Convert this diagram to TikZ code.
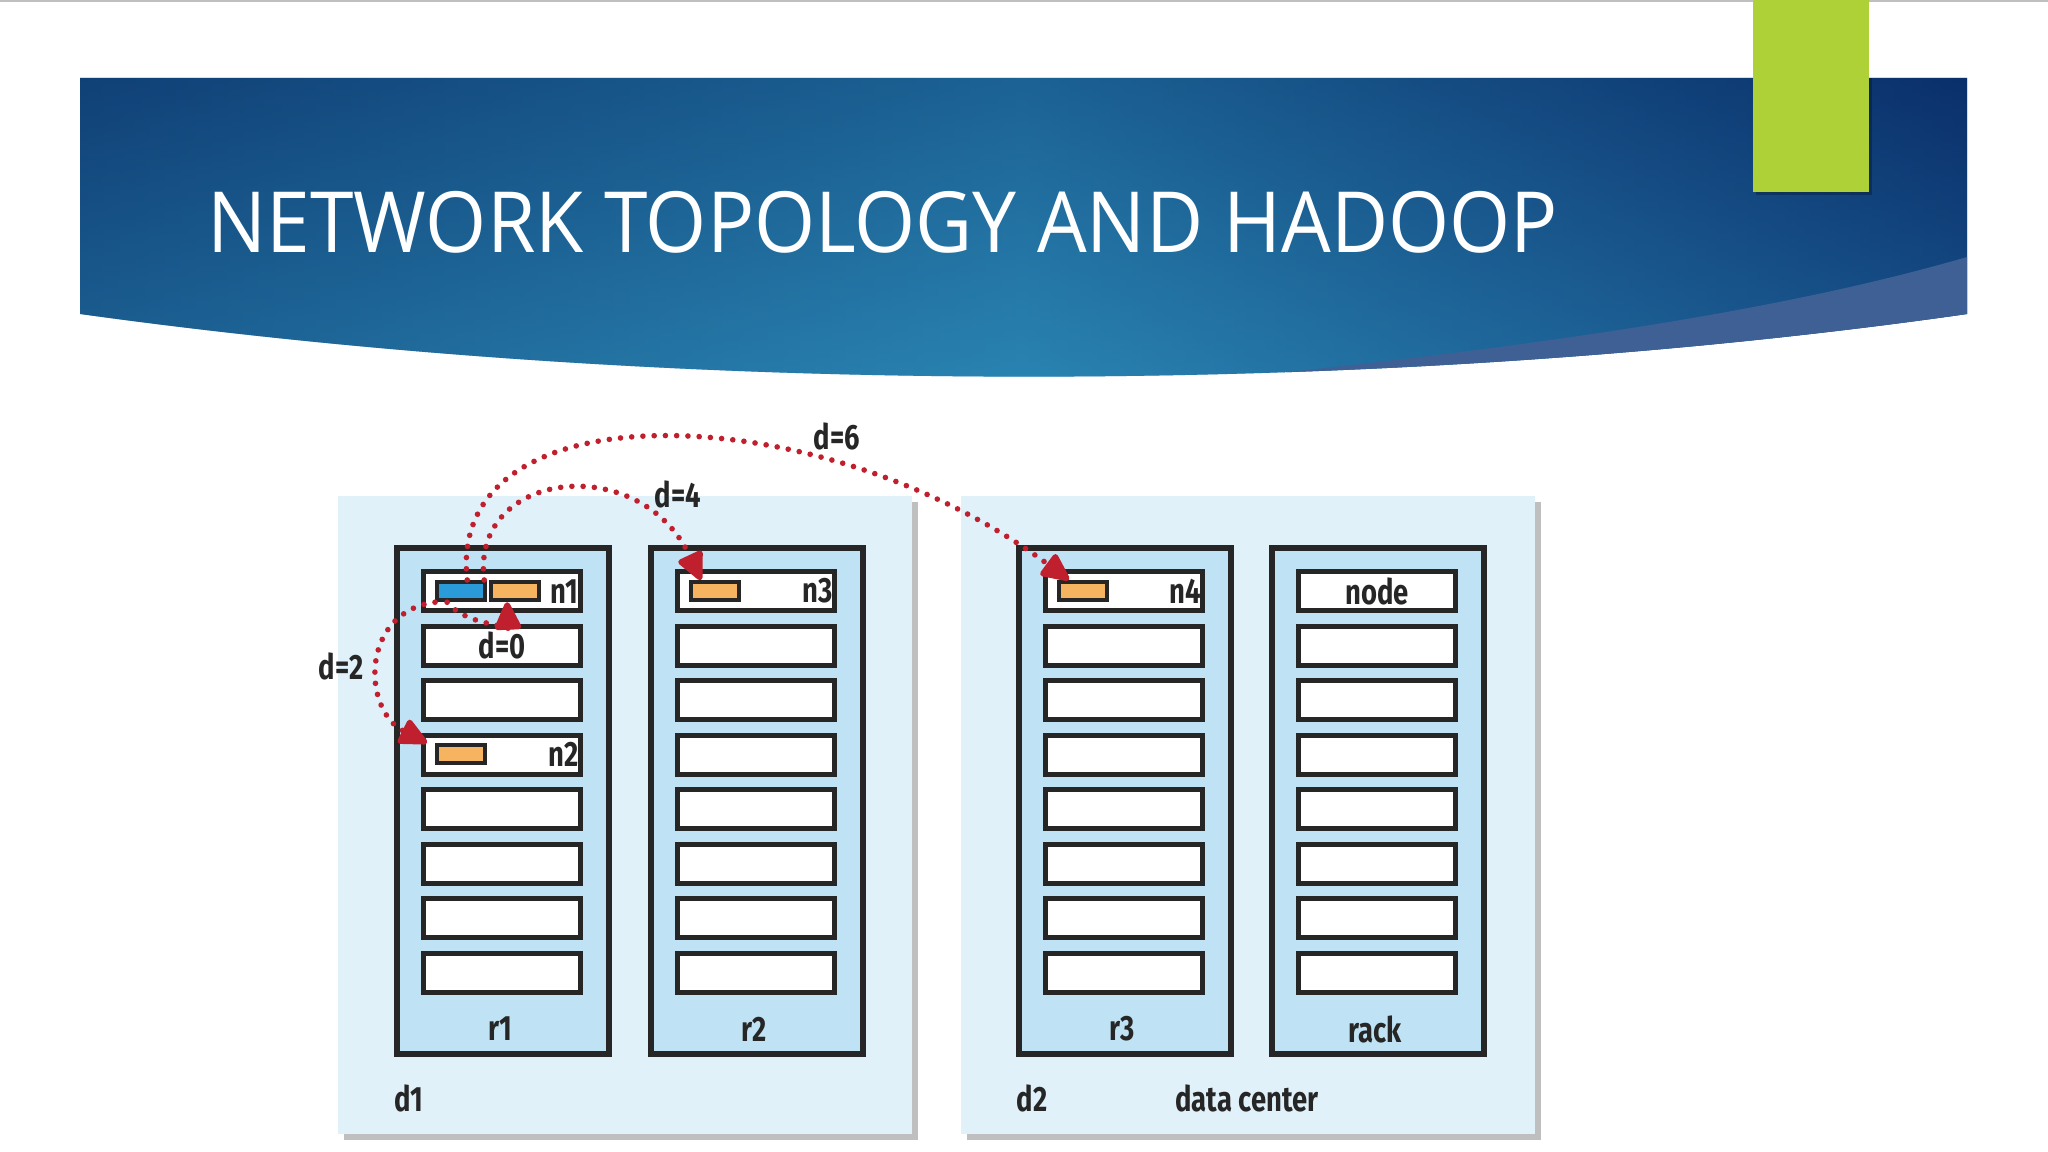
\documentclass[tikz,border=0pt]{standalone}
\usepackage{fontspec}
\setmainfont{Open Sans}
\newfontfamily\titlefont[FakeStretch=0.93]{Open Sans}
\newfontfamily\labfont[FakeStretch=0.78]{Fira Sans}
\usetikzlibrary{arrows.meta}
\definecolor{panelc}{HTML}{E0F1FA}
\definecolor{rackc}{HTML}{BFE3F4}
\definecolor{orng}{HTML}{F6B460}
\definecolor{blu}{HTML}{2A9AD8}
\definecolor{arr}{HTML}{C0202E}
\definecolor{grn}{HTML}{ADD136}
\definecolor{bnleft}{HTML}{14497E}
\definecolor{bnmid}{HTML}{2A86B4}
\definecolor{bnright}{HTML}{0A2A69}
\definecolor{bntop}{HTML}{0C376E}
\definecolor{bnband}{HTML}{3E6094}
\newlength\pxu \setlength\pxu{0.01cm}
\tikzset{
 panel/.style={fill=panelc, draw=none},
 rackbox/.style={draw=black!85, fill=rackc, line width=1.8pt, anchor=north west, inner sep=0pt, minimum width=212\pxu, minimum height=506\pxu},
 slot/.style={draw=black!85, fill=white, line width=1.5pt, anchor=north west, inner sep=0pt, minimum width=157\pxu, minimum height=39\pxu},
 chip/.style={draw=black!85, line width=1.2pt, anchor=north west, inner sep=0pt, minimum width=48\pxu, minimum height=18\pxu},
 lab/.style={font=\labfont\bfseries\fontsize{10}{12}\selectfont, text=black!85, inner sep=0pt},
 hop/.style={draw=arr, line width=1.6pt, dash pattern=on 0pt off 3.2pt, line cap=round, -{Triangle[length=9pt,width=8pt,round]}},
}
\begin{document}
\begin{tikzpicture}[x=0.01cm,y=-0.01cm]
\useasboundingbox (0,0) rectangle (2048,1152);
\fill[white] (0,0) rectangle (2048,1152);
\draw[gray!50, line width=0.6pt] (0,1) -- (2048,1);
% banner
\begin{scope}
\clip (80,78) -- (1967,78) -- (1967,314) .. controls (1400,395) and (700,400) .. (80,314) -- cycle;
\shade[left color=bnleft, right color=bnright, middle color=bnmid] (80,78) rectangle (1967,400);
\shade[top color=bntop, bottom color=bnmid, opacity=0.45] (80,78) rectangle (1967,400);
\fill[bnband] (1967,257) .. controls (1750,320) and (1450,360) .. (1000,400) -- (1967,400) -- cycle;
\end{scope}
\fill[black, opacity=0.25] (1756,78) rectangle (1872,195);
\fill[grn] (1753,0) rectangle (1869,192);
\node[anchor=west, text=white, font=\titlefont\fontsize{24}{28}\selectfont, inner sep=0pt] (title) at (207,222) {NETWORK TOPOLOGY AND HADOOP};
% panels
\fill[black!25] (344,502) rectangle (918,1140);
\fill[black!25] (967,502) rectangle (1541,1140);
\fill[panel] (338,496) rectangle (912,1134);
\fill[panel] (961,496) rectangle (1535,1134);
% racks
\foreach \r/\x/\t in {r1/394/r1, r2/648/r2, r3/1016/r3, r4/1269/rack}{
  \node[rackbox] (\r) at (\x,545) {};
  \node[lab] (\r lab) at (\x+106,1029) {\t};
  \foreach \i in {0,...,7}{
    \node[slot] (\r s\i) at (\x+27,569+54.5*\i) {};
  }
}
\node[lab, anchor=east] (n1l) at ([xshift=-4\pxu]r1s0.east) {n1};
\node[lab, anchor=east] (n2l) at ([xshift=-4\pxu]r1s3.east) {n2};
\node[lab, anchor=east] (n3l) at ([xshift=-4\pxu]r2s0.east) {n3};
\node[lab, anchor=east] (n4l) at ([xshift=-4\pxu]r3s0.east) {n4};
\node[lab] (nodel) at (r4s0.center) {node};
\node[lab] (d0l) at (r1s1.center) {d=0};
\node[chip, fill=blu] (b1) at (435,580) {};
\node[chip, fill=orng] (o1) at (489,580) {};
\node[chip, fill=orng] (o2) at (435,743) {};
\node[chip, fill=orng] (o3) at (689,580) {};
\node[chip, fill=orng] (o4) at (1057,580) {};
\node[lab] (d1l) at (409,1098) {d1};
\node[lab] (d2l) at (1032,1098) {d2};
\node[lab] (dcl) at (1247,1098) {data center};
\node[lab] (d2) at (341,666) {d=2};
\node[lab] (d4) at (678,494) {d=4};
\node[lab] (d6) at (837,436) {d=6};
% hops
\draw[hop] ([xshift=-14\pxu]b1.south) .. controls (466,625) and (508,625) .. ([xshift=-8\pxu]o1.south);
\draw[hop] (b1.south west) .. controls (360,612) and (362,710) .. ([xshift=-8\pxu]o2.north west);
\draw[hop] ([xshift=-3\pxu]b1.north east) .. controls (470,470) and (640,450) .. ([xshift=12\pxu]o3.north west);
\draw[hop] ([xshift=-20\pxu]b1.north east) .. controls (445,385) and (820,395) .. ([xshift=12\pxu]o4.north west);
\end{tikzpicture}
\end{document}
